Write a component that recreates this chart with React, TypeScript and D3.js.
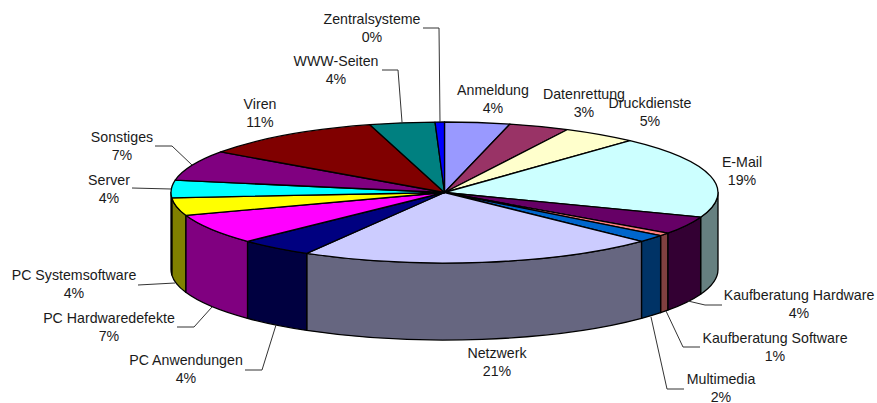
import React from "react";
import * as d3 from "d3";

const categories = ["Anmeldung","Datenrettung","Druckdienste","E-Mail","Kaufberatung Hardware","Kaufberatung Software","Multimedia","Netzwerk","PC Anwendungen","PC Hardwaredefekte","PC Systemsoftware","Server","Sonstiges","Viren","WWW-Seiten","Zentralsysteme"];
const values = [3.85,3.58,4.43,18.84,4.1,0.7,1.7,21.2,4.4,6.95,4.05,4.0,6.95,10.85,3.85,0.55];
const percentLabels = ["4%","3%","5%","19%","4%","1%","2%","21%","4%","7%","4%","4%","7%","11%","4%","0%"];
const topColors = ["#9999FF","#993366","#FFFFCC","#CCFFFF","#660066","#FF8080","#0066CC","#CCCCFF","#000080","#FF00FF","#FFFF00","#00FFFF","#800080","#800000","#008080","#0000FF"];
const sideColors = ["#4D4D80","#4D1A33","#808066","#668080","#330033","#804040","#003366","#666680","#000040","#800080","#808000","#008080","#400040","#400000","#004040","#000080"];

const labelCenters: [number, number][] = [[493,90],[584,94],[650,103],[742,162],[799,295],[775,338],[721,379],[497,353],[186,360],[109,318],[74,275],[109,180],[122,137],[260,104],[336,61],[372,19]];
const leaders: [number, number][][] = [
  [[423,28],[439,28],[440,122]],
  [[382,70],[398,70],[402,122]],
  [[155,146],[172,146],[192,165]],
  [[132,188],[171,189]],
  [[138,285],[175,283]],
  [[177,327],[194,327],[212,307]],
  [[245,370],[262,370],[276,325]],
  [[684,389],[667,389],[651,317]],
  [[700,347],[683,347],[666,311]],
  [[722,305],[705,305],[688,301]],
];

const cx = 444.5, cy = 192.5, rx = 273.5, ry = 70.5, depth = 77;
const font = "'Liberation Sans', Arial, sans-serif";

export default function App() {
  const pie = d3.pie<number>().sort(null).value((d) => d);
  const slices = pie(values);
  const arc = d3.arc<d3.PieArcDatum<number>>().innerRadius(0).outerRadius(rx);
  const pt = (t: number, dy = 0): [number, number] => [cx + rx * Math.sin(t), cy - ry * Math.cos(t) + dy];
  const line = d3.line();

  const sides = slices.map((s, i) => {
    const a0 = Math.max(s.startAngle, Math.PI / 2);
    const a1 = Math.min(s.endAngle, (3 * Math.PI) / 2);
    if (a1 <= a0) return null;
    const [x0, y0] = pt(a0);
    const [x1, y1] = pt(a1);
    const [x2, y2] = pt(a1, depth);
    const [x3, y3] = pt(a0, depth);
    const d = `M${x0},${y0}A${rx},${ry} 0 0 1 ${x1},${y1}L${x2},${y2}A${rx},${ry} 0 0 0 ${x3},${y3}Z`;
    return <path key={i} d={d} fill={sideColors[i]} stroke="#000" strokeWidth={1.3} strokeLinejoin="round" />;
  });

  return (
    <svg width={877} height={403} style={{ position: "absolute", left: 0, top: 0, background: "#fff" }}>
      {sides}
      <g transform={`translate(${cx},${cy}) scale(1,${ry / rx})`}>
        {slices.map((s, i) => (
          <path key={i} d={arc(s) || ""} fill={topColors[i]} stroke="#000" strokeWidth={1.3} vectorEffect="non-scaling-stroke" strokeLinejoin="round" />
        ))}
      </g>
      {leaders.map((l, i) => (
        <path key={i} d={line(l) || ""} fill="none" stroke="#333" strokeWidth={1} />
      ))}
      <g fontFamily={font} fontSize={14.2} fill="#1a1a1a" textAnchor="middle">
        {categories.map((c, i) => (
          <g key={c}>
            <text x={labelCenters[i][0]} y={labelCenters[i][1] + 5}>{c}</text>
            <text x={labelCenters[i][0]} y={labelCenters[i][1] + 22.5}>{percentLabels[i]}</text>
          </g>
        ))}
      </g>
    </svg>
  );
}
